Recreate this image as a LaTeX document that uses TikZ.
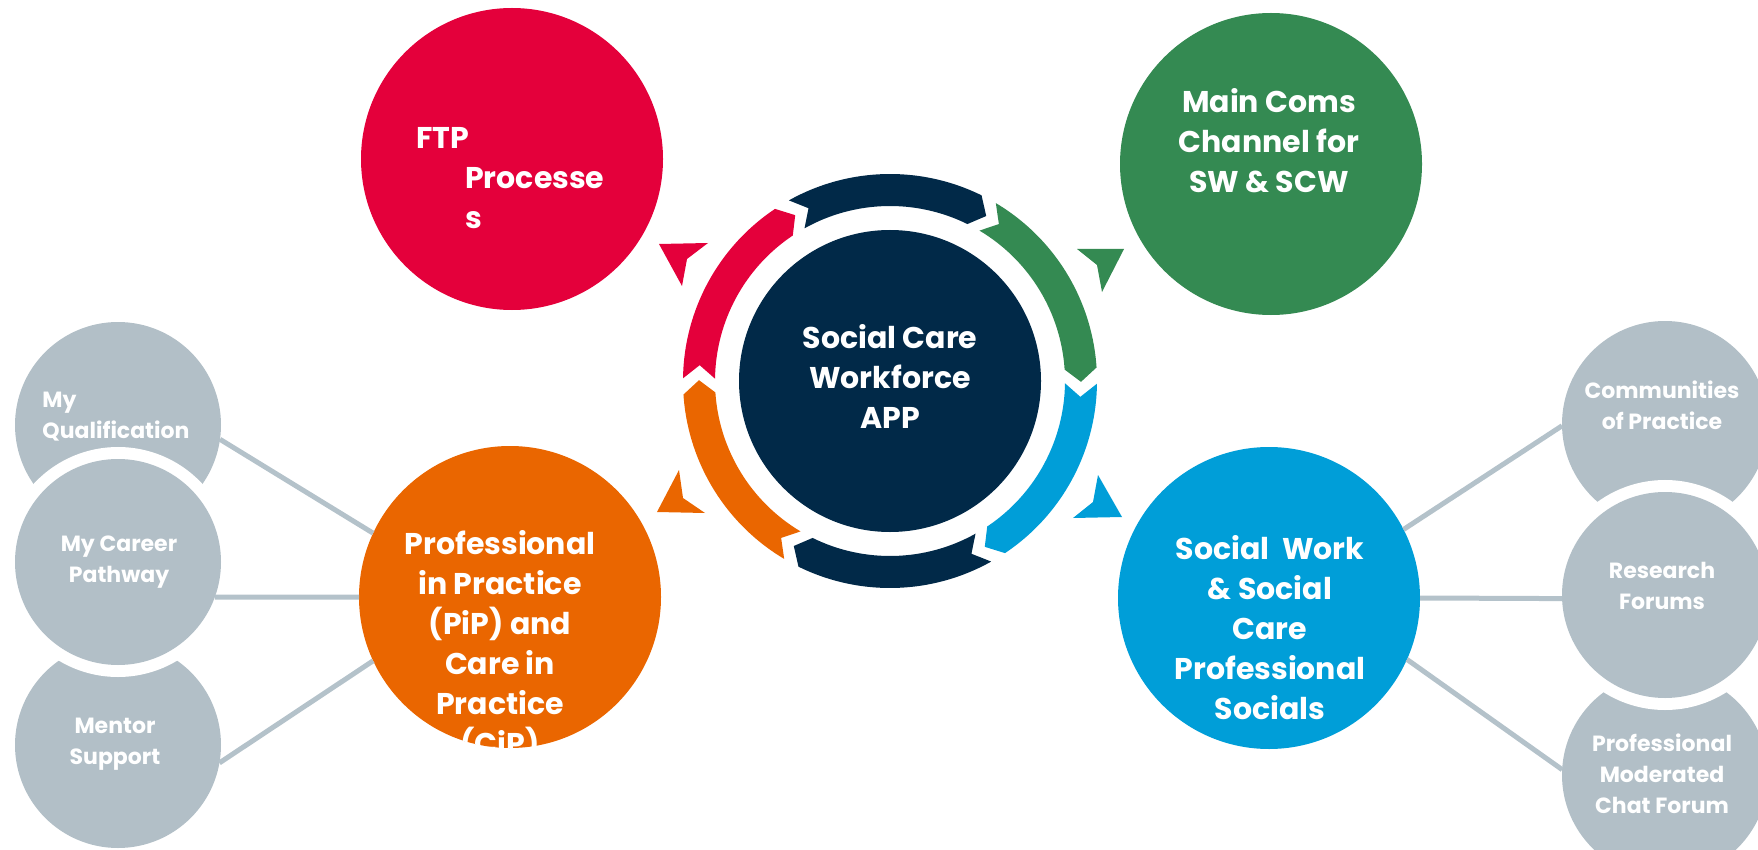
\documentclass[tikz,border=0pt]{standalone}
\usepackage{fontspec}
\setmainfont{Poppins}
\definecolor{cred}{RGB}{228,0,59}
\definecolor{cgreen}{RGB}{52,138,82}
\definecolor{cblue}{RGB}{0,158,216}
\definecolor{corange}{RGB}{234,102,0}
\definecolor{cnavy}{RGB}{1,41,72}
\definecolor{cgrey}{RGB}{178,191,199}
\definecolor{cline}{RGB}{180,194,202}
\newcommand\ringseg[3]{%
  \fill[#1] ({#2+1.75}:207pt) arc[start angle={#2+1.75}, end angle={#3+6.25}, radius=207pt]
    -- ({#3+2.25}:191pt) -- ({#3+6.25}:175pt)
    arc[start angle={#3+6.25}, end angle={#2+1.75}, radius=175pt]
    -- ({#2-2.25}:191pt) -- cycle;}
\begin{document}
\begin{tikzpicture}[x=1pt,y=1pt,
  big/.style={circle, minimum size=302pt, inner sep=0pt, outer sep=0pt},
  btxt/.style={text=white, font=\bfseries\fontsize{30}{40}\selectfont, align=center, inner sep=0pt},
  gtxt/.style={text=white, font=\bfseries\fontsize{22}{31}\selectfont, align=center, inner sep=0pt},
  grey/.style={circle, fill=cgrey, minimum size=206pt, inner sep=0pt, outer sep=0pt},
  greyw/.style={grey, preaction={draw=white, line width=24pt}},
  conn/.style={draw=cline, line width=5pt}]
\useasboundingbox (0,0) rectangle (1758,-850);
\clip (0,0) rectangle (1758,-850);

% ring of arrows
\begin{scope}[shift={(890,-381)}]
  \ringseg{cred}{177.5}{117.5}
  \ringseg{cnavy}{117.5}{57.5}
  \ringseg{cgreen}{57.5}{-2.5}
  \ringseg{cblue}{-2.5}{-62.5}
  \ringseg{cnavy}{-62.5}{-122.5}
  \ringseg{corange}{-122.5}{-182.5}
\end{scope}

% small arrow heads
\fill[cred] (659,-244) -- (708,-243) -- (687,-259) -- (682,-286) -- cycle;
\fill[cgreen] (1077,-249) -- (1124,-249) -- (1102,-292) -- (1097,-265) -- cycle;
\fill[corange] (679,-470) -- (657,-512) -- (705,-513) -- (683,-498) -- cycle;
\fill[cblue] (1098,-475) -- (1122,-517) -- (1073,-518) -- (1093,-502) -- cycle;

% main circles
\node[big, fill=cnavy] (app) at (890,-381) {};
\node[btxt] (apptxt) at (890,-376) {Social Care\\Workforce\\APP};

\node[big, fill=cred] (ftp) at (512,-159) {};
\node[btxt, align=left, anchor=north west] (ftptxt) at (416,-127)
  {FTP\\\hspace*{49pt}Processe\\\hspace*{49pt}s};

\node[big, fill=cgreen] (com) at (1271,-164) {};
\node[btxt] (comtxt) at (1269,-141) {Main Coms\\Channel for\\SW \& SCW};

\node[big, fill=corange] (pip) at (510,-597) {};
\begin{scope}
  \clip (510,-597) circle (151pt);
  \node[btxt] (piptxt) at (500,-646)
    {Professional\\in Practice\\(PiP) and\\Care in\\Practice\\(CiP)};
\end{scope}

\node[big, fill=cblue] (sw) at (1269,-598) {};
\node[btxt] (swtxt) at (1270,-628)
  {Social\ \ Work\\\& Social\\Care\\Professional\\Socials};

% grey satellites, left
\node[grey] (q) at (118,-425) {};
\node[grey] (ms) at (118,-745) {};
\node[greyw] (cp) at (118,-562) {};
\node[gtxt, align=left] (qtxt) at (116,-417) {My\\Qualification};
\node[gtxt] (cptxt) at (119,-562) {My Career\\Pathway};
\node[gtxt] (mstxt) at (115,-744) {Mentor\\Support};

% grey satellites, right
\node[grey] (cop) at (1665,-424) {};
\node[grey] (pm) at (1665,-775) {};
\node[greyw] (rf) at (1665,-595) {};
\node[gtxt] (coptxt) at (1662,-405) {Communities\\of Practice};
\node[gtxt] (rftxt) at (1662,-586) {Research\\Forums};
\node[gtxt] (pmtxt) at (1662,-774) {Professional\\Moderated\\Chat Forum};

% connectors
\draw[conn] (q.-8) -- (pip.155);
\draw[conn] (cp.-20) -- (pip.180);
\draw[conn] (ms.-10) -- (pip.205);
\draw[conn] (sw.27) -- (cop.181);
\draw[conn] (sw.0) -- (rf.182);
\draw[conn] (sw.-24) -- (pm.177);
\end{tikzpicture}
\end{document}
